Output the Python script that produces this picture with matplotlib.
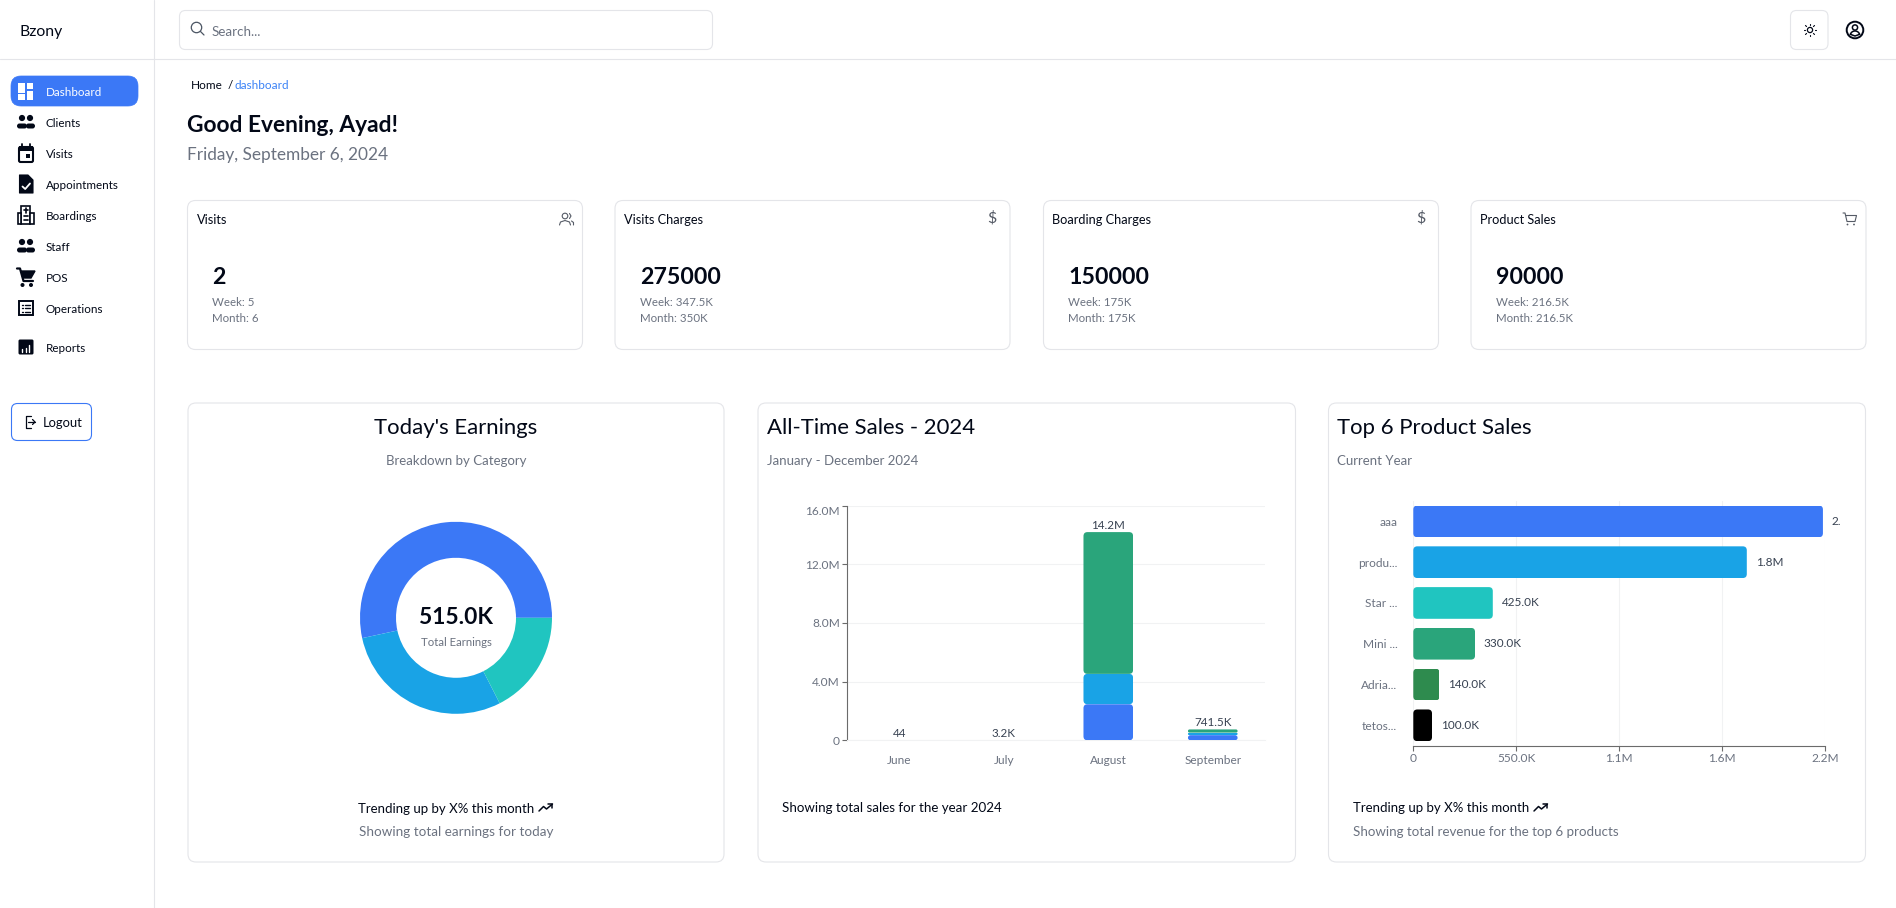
import matplotlib
matplotlib.use("Agg")
import matplotlib.pyplot as plt
from matplotlib.patches import FancyBboxPatch, Circle, Rectangle, Wedge, Polygon
from matplotlib.ticker import FixedLocator, FixedFormatter

# ---------- data ----------
donut_labels = ["Visits Charges", "Boarding Charges", "Product Sales"]
donut_values = [275000, 150000, 90000]
donut_total_label = "515.0K"

months = ["June", "July", "August", "September"]
visit_sales = [44, 3200, 2460000, 350000]
boarding_sales = [0, 0, 2070000, 175000]
product_sales = [0, 0, 9670000, 216500]
month_totals = ["44", "3.2K", "14.2M", "741.5K"]
y_ticks = [0, 4e6, 8e6, 12e6, 16e6]
y_tick_labels = ["0", "4.0M", "8.0M", "12.0M", "16.0M"]

products = ["aaa", "produ...", "Star ...", "Mini ...", "Adria...", "tetos..."]
product_values = [2190000, 1783000, 425000, 330000, 140000, 100000]
product_labels = ["2.", "1.8M", "425.0K", "330.0K", "140.0K", "100.0K"]
x_ticks = [0, 550000, 1100000, 1650000, 2200000]
x_tick_labels = ["0", "550.0K", "1.1M", "1.6M", "2.2M"]

menu = ["Dashboard", "Clients", "Visits", "Appointments", "Boardings", "Staff", "POS", "Operations", "Reports"]
menu_y = [91, 122, 153, 184, 215, 246, 277, 308, 347]

stat_titles = ["Visits", "Visits Charges", "Boarding Charges", "Product Sales"]
stat_values = ["2", "275000", "150000", "90000"]
stat_week = ["Week: 5", "Week: 347.5K", "Week: 175K", "Week: 216.5K"]
stat_month = ["Month: 6", "Month: 350K", "Month: 175K", "Month: 216.5K"]
stat_x = [187.5, 615, 1043.5, 1471]

# ---------- style ----------
BLUE, SKY, TEAL, GREEN, DGREEN = "#3B78F6", "#19A3E6", "#20C5C0", "#2AA57B", "#2E8B4E"
INK, MUTED, BORDER = "#020817", "#6B7280", "#E4E5E9"
FONT = "Lato"
W, H = 1896, 908
plt.rcParams["font.family"] = [FONT, "DejaVu Sans"]

fig = plt.figure(figsize=(W / 100, H / 100), dpi=100, facecolor="white")
bg = fig.add_axes([0, 0, 1, 1], zorder=0)
bg.set_xlim(0, W)
bg.set_ylim(H, 0)
bg.axis("off")


def t(x, y, s, size=8.6, color=INK, weight="normal", ha="left", **kw):
    return bg.text(x, y + 1.2, s, fontsize=size, color=color, fontweight=weight, ha=ha, va="center", **kw)


def box(x0, y0, x1, y1, r=8, ec=BORDER, fc="white", lw=0.8, z=1):
    bg.add_patch(FancyBboxPatch((x0, y0), x1 - x0, y1 - y0, boxstyle=f"round,pad=0,rounding_size={r}",
                                ec=ec, fc=fc, lw=lw, zorder=z))


def line(xs, ys, c=INK, lw=1.2, z=3):
    bg.plot(xs, ys, color=c, lw=lw, zorder=z, solid_capstyle="round", solid_joinstyle="round")


def axes_px(x0, y0, x1, y1):
    return fig.add_axes([x0 / W, 1 - y1 / H, (x1 - x0) / W, (y1 - y0) / H], zorder=2)


def people(cx, cy, c=INK):
    for dx, r in ((-4, 3.1), (4, 3.1)):
        bg.add_patch(Circle((cx + dx, cy - 4), r, fc=c, ec="none", zorder=3))
    bg.add_patch(FancyBboxPatch((cx - 9, cy + 1.5), 10, 5, boxstyle="round,pad=0,rounding_size=2.5", fc=c, ec="none", zorder=3))
    bg.add_patch(FancyBboxPatch((cx + 0, cy + 1.5), 9, 5, boxstyle="round,pad=0,rounding_size=2.5", fc=c, ec="none", zorder=3))


def trend(cx, cy):
    line([cx - 7, cx - 2.5, cx + .5, cx + 6.5], [cy + 3.5, cy - 1, cy + 1.5, cy - 3.5], lw=1.1)
    line([cx + 2.5, cx + 6.5, cx + 6.5], [cy - 3.5, cy - 3.5, cy], lw=1.1)


def icon(i, cx, cy):
    if i == 0:  # dashboard
        for (x, y, w, h) in [(-7.5, -8, 6.5, 9.5), (.8, -8, 6.5, 5.5), (.8, -.5, 6.5, 9.5), (-7.5, 3.2, 6.5, 5.3)]:
            bg.add_patch(Rectangle((cx + x, cy + y), w, h, fc="white", ec="none", zorder=4))
    elif i in (1, 5):
        people(cx, cy)
    elif i == 2:  # calendar
        bg.add_patch(FancyBboxPatch((cx - 7, cy - 6), 14, 15, boxstyle="round,pad=0,rounding_size=1.5", fc="white", ec=INK, lw=1.5, zorder=3))
        bg.add_patch(Rectangle((cx - 7, cy - 7), 14, 5, fc=INK, ec="none", zorder=3))
        line([cx - 4, cx - 4], [cy - 9, cy - 6], lw=1.3)
        line([cx + 4, cx + 4], [cy - 9, cy - 6], lw=1.3)
        bg.add_patch(Rectangle((cx, cy + 1), 4, 4, fc=INK, ec="none", zorder=4))
    elif i == 3:  # file check
        bg.add_patch(Polygon([(cx - 6.5, cy - 9), (cx + 2, cy - 9), (cx + 7, cy - 4), (cx + 7, cy + 9), (cx - 6.5, cy + 9)], fc=INK, ec=INK, lw=.8, joinstyle="round", zorder=3))
        line([cx - 3.5, cx - .8, cx + 4], [cy + 2.5, cy + 5, cy - .5], c="white", lw=1.3, z=4)
    elif i == 4:  # hospital
        bg.add_patch(Rectangle((cx - 4.5, cy - 9), 9, 18, fc="white", ec=INK, lw=1.2, zorder=3))
        bg.add_patch(Rectangle((cx - 8, cy - 2), 3.5, 11, fc="white", ec=INK, lw=1.2, zorder=3))
        bg.add_patch(Rectangle((cx + 4.5, cy - 2), 3.5, 11, fc="white", ec=INK, lw=1.2, zorder=3))
        line([cx, cx], [cy - 7, cy - 2.5], lw=1.2)
        line([cx - 2.2, cx + 2.2], [cy - 4.7, cy - 4.7], lw=1.2)
        line([cx - 2, cx + 2], [cy + 1, cy + 1], lw=1.2)
        line([cx - 2, cx + 2], [cy + 4.5, cy + 4.5], lw=1.2)
    elif i == 6:  # cart
        bg.add_patch(Polygon([(cx - 5, cy - 6), (cx + 9, cy - 6), (cx + 5, cy + 1), (cx - 3, cy + 1)], fc=INK, ec=INK, zorder=3))
        line([cx - 9, cx - 6, cx - 2.5, cx + 7], [cy - 8.5, cy - 8.5, cy + 4, cy + 4], lw=1.6)
        bg.add_patch(Circle((cx - 3.5, cy + 8), 2, fc=INK, ec="none", zorder=3))
        bg.add_patch(Circle((cx + 5, cy + 8), 2, fc=INK, ec="none", zorder=3))
    elif i == 7:  # list
        bg.add_patch(Rectangle((cx - 7, cy - 7), 14, 14, fc="white", ec=INK, lw=1.4, zorder=3))
        for d in (-3.5, 0, 3.5):
            line([cx - 4, cx - 3], [cy + d, cy + d], lw=1)
            line([cx - 1, cx + 4], [cy + d, cy + d], lw=1)
    elif i == 8:  # report
        bg.add_patch(FancyBboxPatch((cx - 7.5, cy - 7.5), 15, 15, boxstyle="round,pad=0,rounding_size=1.5", fc=INK, ec="none", zorder=3))
        for d, h in ((-3.5, 2.5), (0, 4), (3.5, 7)):
            line([cx + d, cx + d], [cy + 4.5, cy + 4.5 - h], c="white", lw=1.0, z=4)


def stat_icon(i, cx, cy):
    c = "#555B66"
    if i == 0:
        bg.add_patch(Circle((cx - 1.5, cy - 3), 2.8, fc="none", ec=c, lw=.8, zorder=3))
        line([cx - 7, cx - 6, cx - 1.5, cx + 3, cx + 4], [cy + 6, cy + 3, cy + 1.5, cy + 3, cy + 6], c=c, lw=.8)
        line([cx + 3, cx + 4.5, cx + 3], [cy - 5.5, cy - 3, cy - .5], c=c, lw=.8)
        line([cx + 5, cx + 7, cx + 7], [cy + 2, cy + 3.5, cy + 6], c=c, lw=.8)
    elif i in (1, 2):
        t(cx - 2, cy - 1.5, "$", size=11.5, color=c, ha="center")
    else:
        line([cx - 7, cx - 5, cx - 3, cx + 5, cx + 6.5, cx - 4], [cy - 6, cy - 6, cy + 2.5, cy + 2.5, cy - 3.5, cy - 3.5], c=c, lw=.8)
        bg.add_patch(Circle((cx - 2.5, cy + 5.5), .9, fc=c, ec="none", zorder=3))
        bg.add_patch(Circle((cx + 4, cy + 5.5), .9, fc=c, ec="none", zorder=3))


# ---------- page chrome ----------
line([154.5, 154.5], [0, H], c=BORDER, lw=0.8, z=1)
line([0, W], [59, 59], c=BORDER, lw=0.8, z=1)
t(19.5, 31, "Bzony", size=11.3)
box(179.5, 10.5, 712.5, 49.5, r=6)
bg.add_patch(Circle((196.5, 27.5), 5.2, fc="none", ec="#4B5563", lw=.9, zorder=3))
line([200.5, 204], [31.5, 35], c="#4B5563", lw=.9)
t(212, 30.5, "Search...", size=9.6, color=MUTED)
box(1790.5, 10.5, 1828, 49.5, r=6)
bg.add_patch(Circle((1810, 30), 2.6, fc="none", ec=INK, lw=.9, zorder=3))
for dx, dy in ((0, -6), (0, 6), (-6, 0), (6, 0), (-4.3, -4.3), (4.3, 4.3), (-4.3, 4.3), (4.3, -4.3)):
    line([1810 + dx * .8, 1810 + dx * 1.05], [30 + dy * .8, 30 + dy * 1.05], lw=.8)
bg.add_patch(Circle((1855, 30), 8.3, fc="none", ec=INK, lw=1.4, zorder=3))
bg.add_patch(Circle((1855, 27.5), 2.6, fc="none", ec=INK, lw=1.1, zorder=3))
bg.add_patch(Wedge((1855, 36), 5, 200, 340, fc="none", ec=INK, lw=1.1, zorder=3))

box(11, 76, 138, 106, r=10, ec=BLUE, fc=BLUE, lw=.5)
for i, (name, y) in enumerate(zip(menu, menu_y)):
    icon(i, 26, y)
    t(46, y, name, size=8.4, color="white" if i == 0 else INK)
box(11.5, 403.5, 91.5, 440.5, r=6, ec=BLUE, lw=.8)
line([31, 26, 26, 31], [416, 416, 428, 428], lw=.9)
line([28.5, 35], [422, 422], lw=.9)
line([32.5, 35, 32.5], [419.5, 422, 424.5], lw=.9)
t(42.3, 422, "Logout", size=9.4)

t(191, 84, "Home", size=8.5)
t(228, 84, "/", size=8.5)
t(234.7, 84, "dashboard", size=8.5, color="#3B82F6")
t(187.3, 124, "Good Evening, Ayad!", size=16.4, weight="bold")
t(187.3, 154, "Friday, September 6, 2024", size=12.4, color=MUTED)

# ---------- stat cards ----------
for i, x in enumerate(stat_x):
    box(x, 200.5, x + 395, 349.5)
    t(x + 9, 219, stat_titles[i], size=9.2)
    stat_icon(i, x + 379, 219)
    t(x + 25, 276.7, stat_values[i], size=16.7, weight="bold")
    t(x + 25, 301, stat_week[i], size=8.3, color=MUTED)
    t(x + 25, 317, stat_month[i], size=8.3, color=MUTED)

# ---------- chart cards ----------
box(188, 403, 724, 862)
box(758, 403, 1295.5, 862)
box(1328.5, 403, 1865.5, 862)

t(456, 427, "Today's Earnings", size=15.9, ha="center")
t(456, 459.5, "Breakdown by Category", size=9.5, color=MUTED, ha="center")
t(767, 427, "All-Time Sales - 2024", size=15.9)
t(767, 459.5, "January - December 2024", size=9.5, color=MUTED)
t(1337, 427, "Top 6 Product Sales", size=15.9)
t(1337, 459.5, "Current Year", size=9.5, color=MUTED)

t(358, 808, "Trending up by X% this month", size=9.5)
trend(546, 807.5)
t(456, 831, "Showing total earnings for today", size=9.7, color=MUTED, ha="center")
t(782.5, 807, "Showing total sales for the year 2024", size=9.6)
t(1353, 807, "Trending up by X% this month", size=9.5)
trend(1541, 807.5)
t(1353, 831, "Showing total revenue for the top 6 products", size=9.6, color=MUTED)


# ---------- rounded bars ----------
def round_bars(ax, rects, r_px):
    """Clip each real bar to a rounded outline with r_px corner radius."""
    bb = ax.get_window_extent()
    (x0, x1), (y0, y1) = ax.get_xlim(), ax.get_ylim()
    sx, sy = bb.width / (x1 - x0), bb.height / abs(y1 - y0)
    for rect in rects:
        x, y, w, h = rect.get_x(), rect.get_y(), rect.get_width(), rect.get_height()
        if w <= 0 or h <= 0:
            continue
        r = min(r_px, w * sx / 2, h * sy / 2)
        outline = FancyBboxPatch((x, y), w, h, boxstyle=f"round,pad=0,rounding_size={r / sx}",
                                 mutation_aspect=sx / sy, transform=ax.transData)
        rect.set_clip_path(outline)


# ---------- donut ----------
ax_d = axes_px(456 - 96, 617.8 - 96, 456 + 96, 617.8 + 96)
ax_d.pie(donut_values, colors=[BLUE, SKY, TEAL], startangle=0, counterclock=True, radius=1,
         wedgeprops=dict(width=0.375, edgecolor="none"))
ax_d.set_xlim(-1, 1)
ax_d.set_ylim(-1, 1)
t(456, 616, donut_total_label, size=16.4, weight="bold", ha="center")
t(456, 641, "Total Earnings", size=8.2, color=MUTED, ha="center")

# ---------- stacked bars ----------
ax_b = axes_px(847.1, 505.7, 1265, 740.3)
ax_b.patch.set_alpha(0)
ax_b.set_xlim(-0.5, 3.5)
ax_b.set_ylim(0, 16e6)
pos = range(len(months))
bottoms2 = [a + b for a, b in zip(visit_sales, boarding_sales)]
tops = [a + b for a, b in zip(bottoms2, product_sales)]
r1 = ax_b.bar(pos, visit_sales, width=0.475, color=BLUE, zorder=3)
r2 = ax_b.bar(pos, boarding_sales, width=0.475, bottom=visit_sales, color=SKY, zorder=3)
r3 = ax_b.bar(pos, product_sales, width=0.475, bottom=bottoms2, color=GREEN, zorder=3)
for rects in (r1, r2, r3):
    round_bars(ax_b, rects, 4)
for p, top, lab in zip(pos, tops, month_totals):
    ax_b.annotate(lab, (p, top), xytext=(0, 1.5), textcoords="offset pixels", ha="center", va="bottom",
                  fontsize=8.4, color="#374151")
ax_b.set_xticks(list(pos), months)
ax_b.yaxis.set_major_locator(FixedLocator(y_ticks))
ax_b.yaxis.set_major_formatter(FixedFormatter(y_tick_labels))
ax_b.grid(axis="y", color="#F1F2F3", lw=.8, zorder=0)
ax_b.set_axisbelow(True)
for s in ("top", "right"):
    ax_b.spines[s].set_visible(False)
ax_b.spines["bottom"].set_color("#F1F2F3")
ax_b.spines["left"].set_color("#6B6B6B")
ax_b.tick_params(axis="x", length=0, pad=10.5, labelsize=8.6, labelcolor=MUTED)
ax_b.tick_params(axis="y", length=3.6, width=.8, color="#6B6B6B", pad=1.6, labelsize=8.6, labelcolor=MUTED)
ax_b.get_yticklabels()[-1].set_verticalalignment("top")

# ---------- horizontal bars ----------
ax_h = axes_px(1413.3, 501, 1824.8, 745.7)
ax_h.patch.set_alpha(0)
ax_h.set_xlim(0, 2.2e6)
ax_h.set_ylim(5.5, -0.5)
ypos = range(len(products))
rh = ax_h.barh(ypos, product_values, height=0.777, color=[BLUE, SKY, TEAL, GREEN, DGREEN, "#000000"], zorder=3)
round_bars(ax_h, rh, 4)
for y, v, lab in zip(ypos, product_values, product_labels):
    ax_h.annotate(lab, (v, y), xytext=(8.8, 0), textcoords="offset pixels", ha="left", va="center",
                  fontsize=8.5, color="#374151", annotation_clip=False)
ax_h.set_yticks(list(ypos), products)
ax_h.xaxis.set_major_locator(FixedLocator(x_ticks))
ax_h.xaxis.set_major_formatter(FixedFormatter(x_tick_labels))
ax_h.grid(axis="x", color="#F1F2F3", lw=.8, zorder=0)
ax_h.set_axisbelow(True)
for s in ("top", "right", "left"):
    ax_h.spines[s].set_visible(False)
ax_h.spines["bottom"].set_color("#6B6B6B")
ax_h.tick_params(axis="y", length=0, pad=11.5, labelsize=8.6, labelcolor=MUTED)
ax_h.tick_params(axis="x", length=3.6, width=.8, color="#6B6B6B", pad=2, labelsize=8.6, labelcolor=MUTED)

fig.savefig("out.png", dpi=100, facecolor="white")
